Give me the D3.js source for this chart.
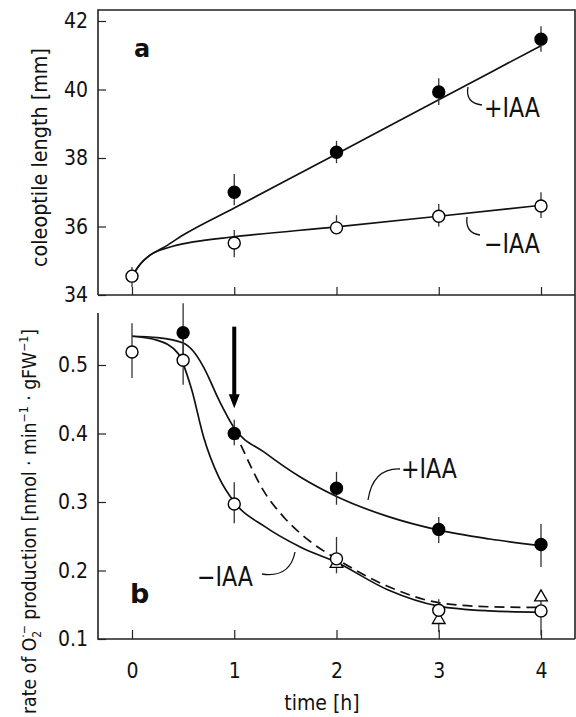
<!DOCTYPE html>
<html lang="en">
<head>
	<meta charset="UTF-8">
	<title>Coleoptile growth and superoxide</title>
	<style>
		body { margin: 0; background: #fff; }
		svg { display: block; }
		text { font-family: "DejaVu Sans Condensed", "DejaVu Sans", sans-serif; fill: #111; }
		.tick text { font-size: 21px; }
		.tick line { stroke: #222; stroke-width: 1.2; }
		.frame { fill: none; stroke: #222; stroke-width: 1.6; }
		.fit { fill: none; stroke: #111; stroke-width: 1.7; }
		.bar { stroke: #333; stroke-width: 1.3; }
	</style>
</head>
<body>
<svg></svg>
<script src="https://cdnjs.cloudflare.com/ajax/libs/d3/7.8.5/d3.min.js"></script>
<script>
	const width = 576, height = 717;

	// panel a: coleoptile length [mm]
	const lenHoursMinus = [0, 1, 2, 3, 4];
	const lenMinus = [34.55, 35.52, 35.96, 36.3, 36.6];
	const lenMinusLo = [34.23, 35.1, 35.8, 36.0, 36.25];
	const lenMinusHi = [34.82, 35.9, 36.33, 36.66, 37.0];
	const lenHoursPlus = [1, 2, 3, 4];
	const lenPlus = [37.0, 38.17, 39.93, 41.47];
	const lenPlusLo = [36.62, 37.85, 39.55, 41.1];
	const lenPlusHi = [37.53, 38.5, 40.33, 41.85];
	// fitted curves
	const lenFitPlus = [[0, 34.55], [0.08, 34.9], [0.18, 35.17], [0.3, 35.37], [0.5, 35.75], [1, 36.54], [2, 38.12], [3, 39.7], [4, 41.28]];
	const lenFitMinus = [[0, 34.55], [0.08, 34.9], [0.18, 35.17], [0.35, 35.38], [0.6, 35.55], [1, 35.7], [2, 35.99], [3, 36.3], [4, 36.62]];
	const lenTicks = [34, 36, 38, 40, 42];

	// panel b: rate of O2- production
	const o2HoursPlus = [0.5, 1, 2, 3, 4];
	const o2Plus = [0.547, 0.40, 0.32, 0.26, 0.238];
	const o2PlusLo = [0.51, 0.383, 0.296, 0.24, 0.205];
	const o2PlusHi = [0.59, 0.42, 0.344, 0.278, 0.268];
	const o2HoursMinus = [0, 0.5, 1, 2, 3, 4];
	const o2Minus = [0.519, 0.507, 0.297, 0.217, 0.142, 0.141];
	const o2MinusLo = [0.481, 0.471, 0.269, 0.196, 0.11, 0.105];
	const o2MinusHi = [0.561, 0.54, 0.329, 0.249, 0.158, 0.17];
	const o2HoursTri = [2, 3, 4];
	const o2Tri = [0.21, 0.128, 0.161];
	const o2FitPlus = [[0, 0.542], [0.25, 0.540], [0.5, 0.532], [0.6, 0.52], [0.7, 0.497], [0.85, 0.449], [1, 0.408], [1.3, 0.372], [1.65, 0.336], [2, 0.308], [2.5, 0.279], [3, 0.259], [3.5, 0.246], [4, 0.236]];
	const o2FitMinus = [[0, 0.542], [0.25, 0.536], [0.45, 0.517], [0.58, 0.466], [0.7, 0.395], [0.85, 0.336], [1, 0.300], [1.3, 0.264], [1.65, 0.234], [2, 0.212], [2.5, 0.172], [3, 0.148], [3.5, 0.141], [4, 0.139]];
	const o2FitDashed = [[1, 0.405], [1.09, 0.375], [1.28, 0.318], [1.49, 0.277], [1.72, 0.245], [2, 0.217], [2.5, 0.177], [3, 0.153], [3.5, 0.147], [4, 0.146]];
	const o2Ticks = [0.1, 0.2, 0.3, 0.4, 0.5];
	const hourTicks = [0, 1, 2, 3, 4];
	const arrowAt = { t: 1, from: 0.556, to: 0.437 };

	const svg = d3.select('svg').attr('width', width).attr('height', height);

	const x = d3.scaleLinear().domain([0, 4]).range([132, 541]);
	const yLen = d3.scaleLinear().domain([34, 42]).range([295, 21]);
	const yO2 = d3.scaleLinear().domain([0.1, 0.5]).range([639, 365]);

	const xLeft = 98, xRight = 575;

	// frames
	svg.append('path').attr('class', 'frame')
		.attr('d', `M${xLeft},${yLen(34)}V${yLen(42.32)}H${xRight}V${yO2(0.1)}`);
	svg.append('path').attr('class', 'frame')
		.attr('d', `M${xLeft},${yLen(34)}H${xRight}`);
	svg.append('path').attr('class', 'frame')
		.attr('d', `M${xLeft},${yO2(0.576)}V${yO2(0.1)}H${xRight}`);

	// axes
	const fmtLen = d3.format('d'), fmtO2 = d3.format('.1f');
	svg.append('g').attr('transform', `translate(${xLeft},0)`)
		.call(d3.axisLeft(yLen).tickValues(lenTicks).tickFormat(fmtLen).tickSize(-8).tickPadding(10))
		.call(g => g.select('.domain').remove());
	svg.append('g').attr('transform', `translate(0,${yLen(34)})`)
		.call(d3.axisBottom(x).tickValues(hourTicks).tickFormat('').tickSize(-8))
		.call(g => g.select('.domain').remove());
	svg.append('g').attr('transform', `translate(${xLeft},0)`)
		.call(d3.axisLeft(yO2).tickValues(o2Ticks).tickFormat(fmtO2).tickSize(-8).tickPadding(10))
		.call(g => g.select('.domain').remove());
	svg.append('g').attr('transform', `translate(0,${yO2(0.1)})`)
		.call(d3.axisBottom(x).tickValues(hourTicks).tickFormat(fmtLen).tickSize(-9).tickPadding(24))
		.call(g => g.select('.domain').remove());
	svg.selectAll('.tick text').attr('fill', '#111').style('font-family', '"DejaVu Sans Condensed", sans-serif');

	// axis titles
	svg.append('text')
		.attr('transform', `translate(47,${(48 + 267) / 2}) rotate(-90)`)
		.attr('text-anchor', 'middle')
		.attr('font-size', 21)
		.attr('textLength', 219).attr('lengthAdjust', 'spacingAndGlyphs')
		.text('coleoptile length [mm]');

	const t2 = svg.append('text')
		.attr('transform', `translate(36,${(328 + 715) / 2}) rotate(-90)`)
		.attr('text-anchor', 'middle')
		.attr('font-size', 19)
		.attr('textLength', 385).attr('lengthAdjust', 'spacingAndGlyphs');
	t2.append('tspan').text('rate of O');
	t2.append('tspan').attr('font-size', 12).attr('dy', 5).text('2');
	t2.append('tspan').attr('font-size', 12).attr('dx', -7).attr('dy', -13).text('·−');
	t2.append('tspan').attr('dy', 8).text(' production [nmol · min');
	t2.append('tspan').attr('font-size', 12).attr('dy', -8).text('−1');
	t2.append('tspan').attr('dy', 8).text(' · gFW');
	t2.append('tspan').attr('font-size', 12).attr('dy', -8).text('−1');
	t2.append('tspan').attr('dy', 8).text(']');

	svg.append('text')
		.attr('x', 322).attr('y', 710)
		.attr('text-anchor', 'middle')
		.attr('font-size', 21)
		.text('time [h]');

	// fitted curves
	const lineLen = d3.line().x(d => x(d[0])).y(d => yLen(d[1])).curve(d3.curveMonotoneX);
	const lineO2 = d3.line().x(d => x(d[0])).y(d => yO2(d[1])).curve(d3.curveMonotoneX);
	svg.append('path').attr('class', 'fit').attr('d', lineLen(lenFitPlus));
	svg.append('path').attr('class', 'fit').attr('d', lineLen(lenFitMinus));
	svg.append('path').attr('class', 'fit').attr('d', lineO2(o2FitPlus));
	svg.append('path').attr('class', 'fit').attr('d', lineO2(o2FitMinus));
	svg.append('path').attr('class', 'fit').attr('d', lineO2(o2FitDashed))
		.attr('stroke-dasharray', '10,6');

	// error bars
	function bars(hours, lo, hi, y) {
		svg.append('g').selectAll('line')
			.data(hours)
			.join('line')
			.attr('class', 'bar')
			.attr('x1', d => x(d)).attr('x2', d => x(d))
			.attr('y1', (d, i) => y(lo[i])).attr('y2', (d, i) => y(hi[i]));
	}
	bars(lenHoursMinus, lenMinusLo, lenMinusHi, yLen);
	bars(lenHoursPlus, lenPlusLo, lenPlusHi, yLen);
	bars(o2HoursPlus, o2PlusLo, o2PlusHi, yO2);
	bars(o2HoursMinus, o2MinusLo, o2MinusHi, yO2);

	// markers
	const tri = d3.symbol().type(d3.symbolTriangle).size(70);
	svg.append('g').selectAll('path')
		.data(o2HoursTri)
		.join('path')
		.attr('transform', (d, i) => `translate(${x(d)},${yO2(o2Tri[i])})`)
		.attr('d', tri)
		.attr('fill', '#fff')
		.attr('stroke', '#000')
		.attr('stroke-width', 1.3);

	function circles(hours, vals, y, filled) {
		svg.append('g').selectAll('circle')
			.data(hours)
			.join('circle')
			.attr('cx', d => x(d))
			.attr('cy', (d, i) => y(vals[i]))
			.attr('r', 6)
			.attr('fill', filled ? '#000' : '#fff')
			.attr('stroke', '#000')
			.attr('stroke-width', 1.4);
	}
	circles(lenHoursMinus, lenMinus, yLen, false);
	circles(lenHoursPlus, lenPlus, yLen, true);
	circles(o2HoursMinus, o2Minus, yO2, false);
	circles(o2HoursPlus, o2Plus, yO2, true);

	// arrow at 1 h
	const ax = x(arrowAt.t), ay0 = yO2(arrowAt.from), ay1 = yO2(arrowAt.to);
	svg.append('line')
		.attr('x1', ax).attr('x2', ax).attr('y1', ay0).attr('y2', ay1 - 10)
		.attr('stroke', '#000').attr('stroke-width', 4);
	svg.append('path')
		.attr('d', `M${ax - 5.5},${ay1 - 14}L${ax + 5.5},${ay1 - 14}L${ax},${ay1}Z`)
		.attr('fill', '#000');

	// panel letters and series labels
	svg.append('text').attr('x', 134).attr('y', 57).attr('font-size', 24).attr('font-weight', 'bold')
		.style('font-family', '"DejaVu Sans", sans-serif').text('a');
	svg.append('text').attr('x', 130).attr('y', 603).attr('font-size', 27).attr('font-weight', 'bold')
		.style('font-family', '"DejaVu Sans", sans-serif').text('b');

	function label(tx, ty, txt) {
		svg.append('text').attr('x', tx).attr('y', ty).attr('font-size', 26)
			.attr('textLength', 56).attr('lengthAdjust', 'spacingAndGlyphs').text(txt);
	}
	label(484, 117, '+IAA');
	label(484, 253, '−IAA');
	label(401, 478, '+IAA');
	label(197, 586, '−IAA');

	const leader = d => svg.append('path').attr('d', d)
		.attr('fill', 'none').attr('stroke', '#111').attr('stroke-width', 1.3);
	leader('M468,87Q465,103 482,105');
	leader('M467,217Q465,233 480,235');
	leader('M400,469Q373,468 368,500');
	leader('M262,574Q290,578 295,552');
</script>
</body>
</html>
